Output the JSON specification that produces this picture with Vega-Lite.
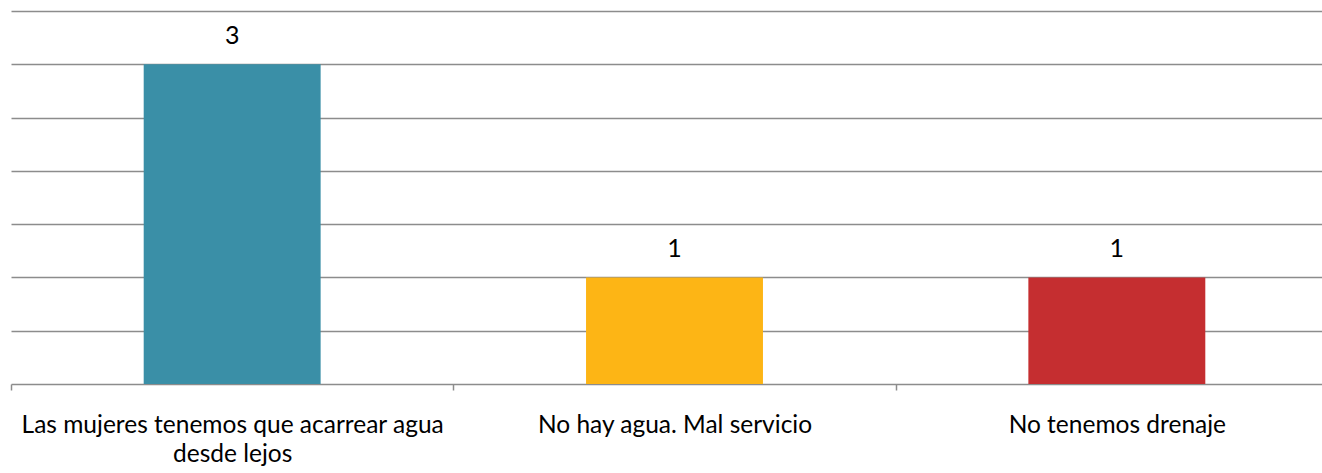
{
  "$schema": "https://vega.github.io/schema/vega-lite/v6.json",
  "autosize": "none",
  "padding": {"left": 11, "top": 11, "right": 0, "bottom": 89},
  "width": 1327,
  "height": 373,
  "background": "white",
  "config": {"view": {"stroke": null}, "font": "Lato"},
  "data": {"values": [
    {"cat": "Las mujeres tenemos que acarrear agua desde lejos", "n": 3, "c": "#3A8FA7"},
    {"cat": "No hay agua. Mal servicio", "n": 1, "c": "#FDB515"},
    {"cat": "No tenemos drenaje", "n": 1, "c": "#C52E30"}
  ]},
  "encoding": {
    "x": {"field": "cat", "type": "nominal", "sort": null,
      "scale": {"paddingInner": 0, "paddingOuter": 0},
      "axis": {"title": null, "labelAngle": 0, "labelFontSize": 24.5, "labelColor": "#000000",
        "labelFont": "Lato", "labelPadding": 23, "labelLineHeight": 29, "labelLimit": 0,
        "labelExpr": "datum.value == 'Las mujeres tenemos que acarrear agua desde lejos' ? ['Las mujeres tenemos que acarrear agua', 'desde lejos'] : datum.value",
        "tickBand": "extent", "tickSize": 6, "tickColor": "#8c8c8c", "tickWidth": 1.5,
        "domainColor": "#8c8c8c", "domainWidth": 1.5, "grid": false, "labelBaseline": "top"}},
    "y": {"field": "n", "type": "quantitative",
      "scale": {"domain": [0, 3.5]},
      "axis": {"title": null, "labels": false, "ticks": false, "domain": false,
        "values": [0.5, 1, 1.5, 2, 2.5, 3, 3.5], "grid": true, "gridColor": "#8c8c8c", "gridWidth": 1.5}}
  },
  "layer": [
    {"mark": {"type": "bar", "width": {"band": 0.4}}, "encoding": {"color": {"field": "c", "type": "nominal", "scale": null}}},
    {"mark": {"type": "text", "dy": -28, "fontSize": 25, "font": "Lato", "color": "#000000"},
     "encoding": {"text": {"field": "n", "type": "quantitative"}}}
  ]
}
